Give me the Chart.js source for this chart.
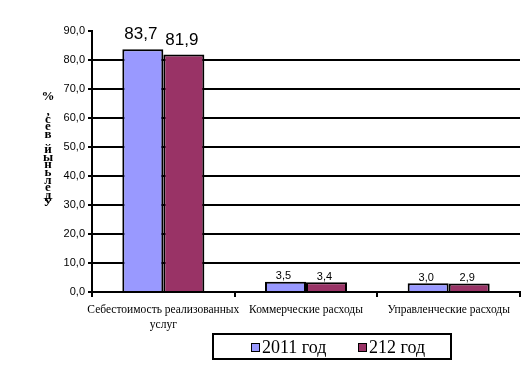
<!DOCTYPE html>
<html>
<head>
<meta charset="utf-8">
<script src="https://cdn.jsdelivr.net/npm/chart.js@4.4.1/dist/chart.umd.min.js"></script>
<style>
  html, body { margin: 0; padding: 0; background: #fff; }
  #wrap { width: 531px; height: 368px; }
</style>
</head>
<body>
<div id="wrap"><canvas id="chart" width="531" height="368"></canvas></div>
<script>
// Data
const categories = [['Себестоимость реализованных', 'услуг'], 'Коммерческие расходы', 'Управленческие расходы'];
const seriesNames = ['2011 год', '212 год'];
const values2011 = [83.7, 3.5, 3.0];
const values2012 = [81.9, 3.4, 2.9];
const yTicks = [0, 10, 20, 30, 40, 50, 60, 70, 80, 90];
const yTitle = 'Удельный вес, %';

const colors = ['#9999ff', '#993366'];
const fmt = v => v.toFixed(1).replace('.', ',');

// value labels above the bars
const labelPlugin = {
  id: 'barLabels',
  afterDatasetsDraw(chart) {
    const c = chart.ctx;
    c.save();
    c.fillStyle = '#000';
    c.textAlign = 'center';
    c.textBaseline = 'bottom';
    chart.data.datasets.forEach((ds, di) => {
      chart.getDatasetMeta(di).data.forEach((bar, i) => {
        const big = i === 0;
        c.font = (big ? '17px' : '11px') + ' "Liberation Sans", Arial, sans-serif';
        c.fillText(fmt(ds.data[i]), bar.x - 2, bar.y - (big ? 6 : 0));
      });
    });
    c.restore();
  }
};

// stacked vertical axis title + boxed legend
const decorPlugin = {
  id: 'decor',
  afterDraw(chart) {
    const c = chart.ctx;
    c.save();
    c.fillStyle = '#000';
    c.font = 'bold 13px "Liberation Serif", "Times New Roman", serif';
    c.textAlign = 'center';
    c.textBaseline = 'middle';
    const chars = Array.from(yTitle);
    chars.forEach((ch, k) => {
      c.fillText(ch, 48, 203 - k * 7.6);
    });

    // legend box
    c.lineWidth = 2;
    c.strokeStyle = '#000';
    c.strokeRect(213, 334, 238, 25);
    const items = [{ x: 251 }, { x: 358 }];
    c.font = '18px "Liberation Serif", "Times New Roman", serif';
    c.textAlign = 'left';
    chart.data.datasets.forEach((ds, i) => {
      const x = items[i].x;
      c.fillStyle = ds.backgroundColor;
      c.fillRect(x, 343, 9, 9);
      c.lineWidth = 1;
      c.strokeRect(x + 0.5, 343.5, 8, 8);
      c.fillStyle = '#000';
      c.fillText(ds.label, x + 11, 348);
    });
    c.restore();
  }
};

new Chart(document.getElementById('chart'), {
  type: 'bar',
  data: {
    labels: categories,
    datasets: [
      { label: seriesNames[0], data: values2011, backgroundColor: colors[0], borderColor: '#000', borderWidth: 2 },
      { label: seriesNames[1], data: values2012, backgroundColor: colors[1], borderColor: '#000', borderWidth: 2 }
    ]
  },
  options: {
    responsive: false,
    animation: false,
    devicePixelRatio: 1,
    layout: { padding: { top: 31, right: 11, left: 0, bottom: 0 } },
    datasets: { bar: { categoryPercentage: 0.575, barPercentage: 1 } },
    plugins: { legend: { display: false }, tooltip: { enabled: false } },
    scales: {
      y: {
        min: 0,
        max: 90,
        afterFit: s => { s.width = 92; },
        afterBuildTicks: s => { s.ticks = yTicks.map(v => ({ value: v })); },
        ticks: {
          color: '#000',
          padding: 3,
          font: { family: '"Liberation Sans", Arial, sans-serif', size: 11 },
          callback: v => fmt(v)
        },
        grid: {
          color: ctx => (ctx.tick && ctx.tick.value === 90 ? 'rgba(0,0,0,0)' : '#000'),
          tickColor: '#000',
          lineWidth: 2,
          tickLength: 4
        },
        border: { color: '#000', width: 2 }
      },
      x: {
        afterFit: s => { s.height = 76; },
        ticks: {
          color: '#000',
          padding: 6,
          maxRotation: 0,
          autoSkip: false,
          font: { family: '"Liberation Serif", "Times New Roman", serif', size: 11.5, lineHeight: 1.3 }
        },
        grid: { drawOnChartArea: false, color: '#000', tickColor: '#000', lineWidth: 2, tickLength: 5, offset: true },
        border: { color: '#000', width: 2 }
      }
    }
  },
  plugins: [labelPlugin, decorPlugin]
});
</script>
</body>
</html>
